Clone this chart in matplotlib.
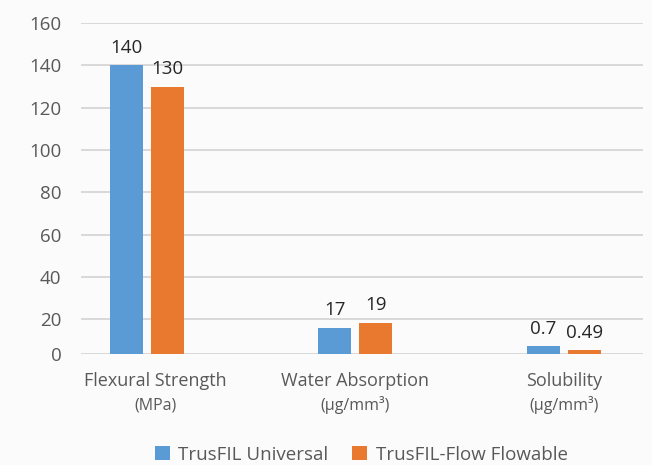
import numpy as np
import matplotlib
matplotlib.use("Agg")
import matplotlib.pyplot as plt
import matplotlib.transforms as mtransforms

plt.rcParams['font.family'] = ['Open Sans', 'DejaVu Sans']

categories = ["Flexural Strength", "Water Absorption", "Solubility"]
units = ["(MPa)", "(µg/mm³)", "(µg/mm³)"]
series_names = ["TrusFIL Universal", "TrusFIL-Flow Flowable"]
universal = [140, 15.2, 4.6]
flowable = [130, 18.0, 2.3]
universal_labels = ["140", "17", "0.7"]
flowable_labels = ["130", "19", "0.49"]
yticks = [0, 20, 40, 60, 80, 100, 120, 140, 160]

K = 0.82  # compressed lowest band of the axis


def fwd(y):
    y = np.asarray(y, dtype=float)
    return np.where(y < 20, y * K, 20 * K + (y - 20))


def inv(t):
    t = np.asarray(t, dtype=float)
    return np.where(t < 20 * K, t / K, t - 20 * K + 20)


fig = plt.figure(figsize=(6.52, 4.65), dpi=100)
fig.patch.set_facecolor('#fbfbfb')
ax = fig.add_axes([0.1242, 0.2387, 0.8618, 0.7118])
ax.set_facecolor('#fbfbfb')
ax.set_yscale('function', functions=(fwd, inv))
ax.set_ylim(0, 160)
ax.set_xlim(-0.3165, 2.379)

x = np.arange(len(categories))
w = 0.158
off = 0.0983
blue = '#5B9BD5'
orange = '#E8792F'
b1 = ax.bar(x - off, universal, w, color=blue, label=series_names[0], zorder=3)
b2 = ax.bar(x + off, flowable, w, color=orange, label=series_names[1], zorder=3)

for rects, labs in ((b1, universal_labels), (b2, flowable_labels)):
    for r, lab in zip(rects, labs):
        ax.annotate(lab, (r.get_x() + r.get_width() / 2, r.get_height()),
                    xytext=(0, 12.5), textcoords='offset points',
                    ha='center', va='center', fontsize=13.5, color='#262626')

ax.set_yticks(yticks)
ax.set_yticklabels([str(v) for v in yticks])
ax.yaxis.set_minor_locator(matplotlib.ticker.NullLocator())
ax.tick_params(axis='y', length=0, pad=14, labelsize=13.5, labelcolor='#595959')
ax.grid(axis='y', color='#d9d9d9', linewidth=1.4, zorder=0)
ax.set_xticks([])
for s in ax.spines.values():
    s.set_visible(False)

trans = mtransforms.blended_transform_factory(ax.transData, ax.transAxes)
ax_h_px = 0.7118 * 465
for xi, cat, un in zip(x, categories, units):
    xx = xi + (0.04 if xi == 0 else 0)
    ax.text(xx, -27 / ax_h_px, cat, transform=trans,
            ha='center', va='center', fontsize=13, color='#595959')
    ax.text(xx, -51 / ax_h_px, un, transform=trans,
            ha='center', va='center', fontsize=11.5, color='#595959')

fig.legend(handles=[b1, b2], labels=series_names, loc='center',
           bbox_to_anchor=(0.554, 0.022), ncol=2, frameon=False,
           fontsize=13.5, handlelength=0.8, handleheight=0.8,
           columnspacing=1.3, handletextpad=0.45, labelcolor='#595959')

fig.savefig('out.png', dpi=100, facecolor=fig.get_facecolor())
